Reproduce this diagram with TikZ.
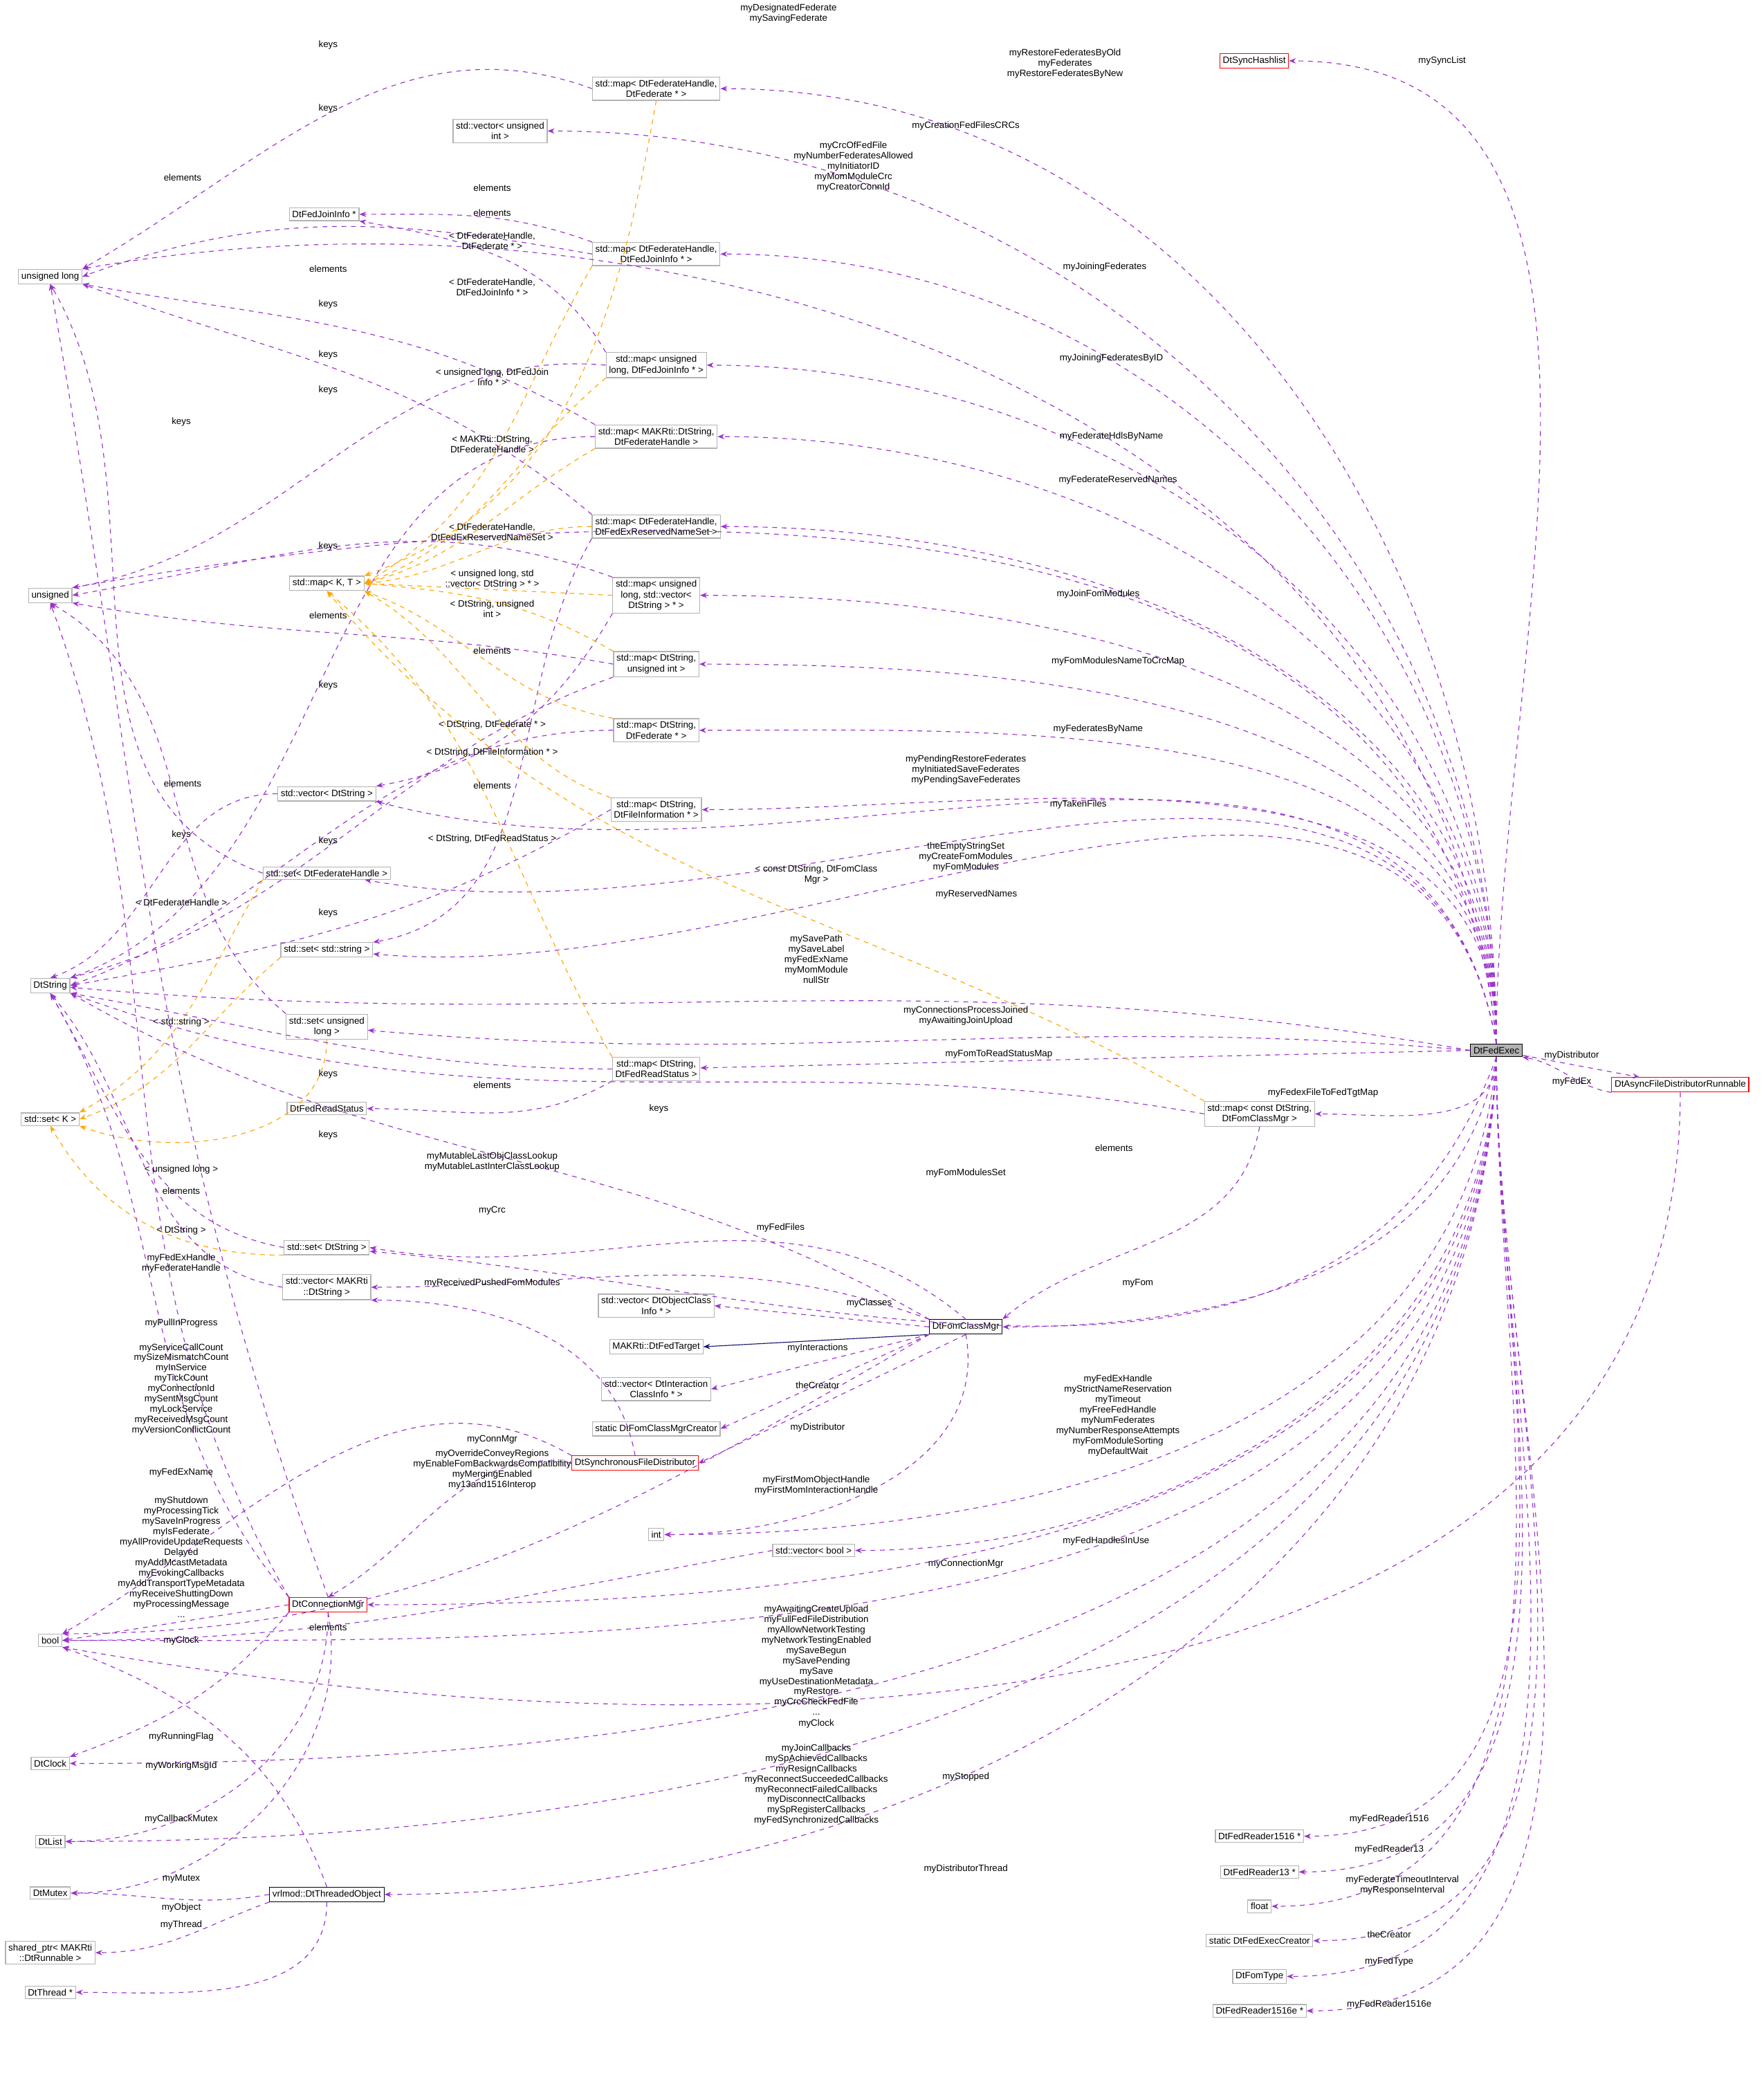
\documentclass[tikz,border=0pt]{standalone}
\usepackage{fontspec}
\setmainfont{Liberation Sans}
\usetikzlibrary{arrows.meta}
\definecolor{pur}{HTML}{9A32CD}
\definecolor{org}{HTML}{FFA500}
\definecolor{nav}{HTML}{191970}
\begin{document}
\begin{tikzpicture}[x=0.25pt,y=-0.25pt,line width=0.15pt,
 box/.style={draw=gray!60,fill=white,font=\fontsize{1.75}{2}\selectfont,inner sep=0.55pt,align=center},
 rbox/.style={box,draw=red},
 kbox/.style={box,draw=black},
 lbl/.style={font=\fontsize{1.75}{1.95}\selectfont,align=center,inner sep=0pt},
 mem/.style={draw=pur,dash pattern=on 0.9pt off 0.9pt,-{Stealth[length=1.3pt,width=1pt]}},
 tpl/.style={draw=org,dash pattern=on 0.9pt off 0.9pt,-{Stealth[length=1.3pt,width=1pt]}},
 inh/.style={draw=nav,-{Stealth[length=1.3pt,width=1pt]}}]
\useasboundingbox (0,0) rectangle (1333,1567);
% nodes
\node[box,fill=gray!60,draw=black] (fe) at (1131,794) {DtFedExec};
\node[rbox] (async) at (1270,820) {DtAsyncFileDistributorRunnable};
\node[rbox] (sync) at (948,46) {DtSyncHashlist};
\node[box] (mapFF) at (496,67) {std::map< DtFederateHandle,\\DtFederate * >};
\node[box] (vecUI) at (378,99) {std::vector< unsigned\\int >};
\node[box] (fji) at (245,162) {DtFedJoinInfo *};
\node[box] (mapFJ) at (496,192) {std::map< DtFederateHandle,\\DtFedJoinInfo * >};
\node[box] (ulong) at (38,209) {unsigned long};
\node[box] (mapUJ) at (496,276) {std::map< unsigned\\long, DtFedJoinInfo * >};
\node[box] (mapMS) at (496,330) {std::map< MAKRti::DtString,\\DtFederateHandle >};
\node[box] (mapFR) at (496,398) {std::map< DtFederateHandle,\\DtFedExReservedNameSet >};
\node[box] (mapKT) at (247,441) {std::map< K, T >};
\node[box] (unsig) at (38,450) {unsigned};
\node[box] (mapUV) at (496,450) {std::map< unsigned\\long, std::vector<\\DtString > * >};
\node[box] (mapSU) at (496,502) {std::map< DtString,\\unsigned int >};
\node[box] (mapSF) at (496,552) {std::map< DtString,\\DtFederate * >};
\node[box] (vecS) at (247,600) {std::vector< DtString >};
\node[box] (mapSFI) at (496,612) {std::map< DtString,\\DtFileInformation * >};
\node[box] (setFH) at (247,660) {std::set< DtFederateHandle >};
\node[box] (setSS) at (247,718) {std::set< std::string >};
\node[box] (dts) at (38,745) {DtString};
\node[box] (setUL) at (247,776) {std::set< unsigned\\long >};
\node[box] (mapSR) at (496,808) {std::map< DtString,\\DtFedReadStatus >};
\node[box] (frs) at (247,838) {DtFedReadStatus};
\node[box] (setK) at (38,846) {std::set< K >};
\node[box] (mapCF) at (952,842) {std::map< const DtString,\\DtFomClassMgr >};
\node[box] (setS) at (247,943) {std::set< DtString >};
\node[box] (vecMS) at (247,973) {std::vector< MAKRti\\::DtString >};
\node[box] (vecOC) at (496,987) {std::vector< DtObjectClass\\Info * >};
\node[box] (ftgt) at (496,1018) {MAKRti::DtFedTarget};
\node[kbox] (fcm) at (730,1003) {DtFomClassMgr};
\node[box] (vecIC) at (496,1050) {std::vector< DtInteraction\\ClassInfo * >};
\node[box] (fcmc) at (496,1080) {static DtFomClassMgrCreator};
\node[rbox] (sfd) at (480,1106) {DtSynchronousFileDistributor};
\node[box] (int) at (496,1160) {int};
\node[box] (vecB) at (615,1172) {std::vector< bool >};
\node[rbox] (cm) at (248,1213) {DtConnectionMgr};
\node[box] (bool) at (38,1240) {bool};
\node[box] (clock) at (38,1333) {DtClock};
\node[box] (list) at (38,1392) {DtList};
\node[box] (mutex) at (38,1431) {DtMutex};
\node[kbox] (thr) at (247,1432) {vrlmod::DtThreadedObject};
\node[box] (shp) at (38,1476) {shared\_ptr< MAKRti\\::DtRunnable >};
\node[box] (dth) at (38,1506) {DtThread *};
\node[box] (r1516) at (952,1388) {DtFedReader1516 *};
\node[box] (r13) at (952,1415) {DtFedReader13 *};
\node[box] (flt) at (952,1441) {float};
\node[box] (fec) at (952,1467) {static DtFedExecCreator};
\node[box] (fty) at (952,1494) {DtFomType};
\node[box] (r1516e) at (952,1520) {DtFedReader1516e *};
% edges from DtFedExec upward
\begin{scope}[every to/.style={out=90,in=0}]
\draw[mem] (fe.north) to[out=95,in=10] (ulong.north east);
\draw[mem] (fe.north) to (sync);
\draw[mem] (fe.north) to (mapFF);
\draw[mem] (fe.north) to (vecUI);
\draw[mem] (fe.north) to[out=95,in=10] (unsig.north east);
\draw[mem] (fe.north) to (mapFJ);
\draw[mem] (fe.north) to (mapUJ);
\draw[mem] (fe.north) to (mapMS);
\draw[mem] (fe.north) to (mapFR);
\draw[mem] (fe.north) to (mapUV);
\draw[mem] (fe.north) to (mapSU);
\draw[mem] (fe.north) to (mapSF);
\draw[mem] (fe.north) to (mapSFI);
\draw[mem] (fe.north) to[out=100,in=-10] (setFH);
\draw[mem] (fe.north) to[out=100,in=-15] (vecS.south east);
\draw[mem] (fe.north) to[out=100,in=-5] (setSS);
\end{scope}
\draw[mem] (fe.west) to[out=170,in=-5] (dts);
\draw[mem] (fe.west) to[out=175,in=-5] (setUL);
\draw[mem] (fe.west) -- (mapSR);
\draw[mem] (fe.south) to[out=-90,in=0] (mapCF);
\draw[mem] (fe) -- (async);
\draw[mem] (async.south west) to[out=170,in=-10] (fe.south east);
\draw[mem] (fe.south) to[out=-110,in=-5] (setS);
\draw[mem] (fe.south) to[out=-100,in=0] (fcm);
\draw[mem] (fe.south) to[out=-95,in=0] (int);
\draw[mem] (fe.south) to[out=-92,in=0] (vecB);
\draw[mem] (fe.south) to[out=-92,in=0] (cm);
\draw[mem] (fe.south) to[out=-92,in=0] (bool);
\draw[mem] (fe.south) to[out=-92,in=0] (clock);
\draw[mem] (fe.south) to[out=-92,in=0] (list);
\draw[mem] (fe.south) to[out=-92,in=0] (thr);
\draw[mem] (fe.south) to[out=-90,in=0] (r1516);
\draw[mem] (fe.south) to[out=-90,in=0] (r13);
\draw[mem] (fe.south) to[out=-90,in=0] (flt);
\draw[mem] (fe.south) to[out=-90,in=0] (fec);
\draw[mem] (fe.south) to[out=-90,in=0] (fty);
\draw[mem] (fe.south) to[out=-90,in=0] (r1516e);
\draw[mem] (async.south) to[out=-90,in=-10] (bool.south east);
% map internals
\draw[mem] (mapFF.west) to[out=160,in=30] (ulong.north east);
\draw[tpl] (mapFF.south) to[out=-100,in=20] (mapKT.north east);
\draw[mem] (mapFJ.west) to[out=170,in=20] (ulong.east);
\draw[mem] (mapFJ.north west) to[out=160,in=0] (fji.east);
\draw[tpl] (mapFJ.south west) to[out=-120,in=30] (mapKT.east);
\draw[mem] (mapUJ.west) to[out=175,in=10] (unsig.north east);
\draw[mem] (mapUJ.north west) to[out=120,in=-10] (fji.south east);
\draw[tpl] (mapUJ.south west) to[out=-140,in=20] (mapKT.east);
\draw[mem] (mapMS.north west) to[out=150,in=-10] (ulong.south east);
\draw[mem] (mapMS.west) to[out=180,in=20] (dts.north east);
\draw[tpl] (mapMS.south west) to[out=-150,in=15] (mapKT.east);
\draw[mem] (mapFR.north west) to[out=140,in=-20] (ulong.south east);
\draw[mem] (mapFR.south west) to[out=-120,in=10] (setSS.north east);
\draw[tpl] (mapFR.west) to[out=180,in=5] (mapKT.east);
\draw[mem] (mapUV.north west) to[out=160,in=10] (unsig.east);
\draw[mem] (mapUV.south west) to[out=-120,in=10] (vecS.north east);
\draw[tpl] (mapUV.west) to (mapKT.east);
\draw[mem] (mapSU.west) to[out=170,in=-10] (unsig.south east);
\draw[mem] (mapSU.south west) to[out=-160,in=15] (dts.north east);
\draw[tpl] (mapSU.north west) to[out=150,in=-5] (mapKT.east);
\draw[mem] (mapSF.west) to[out=180,in=20] (dts.east);
\draw[tpl] (mapSF.north west) to[out=170,in=-20] (mapKT.south east);
\draw[mem] (mapSFI.west) to[out=-150,in=10] (dts.east);
\draw[tpl] (mapSFI.north west) to[out=160,in=-30] (mapKT.south east);
\draw[mem] (vecS.west) to[out=180,in=20] (dts.north);
\draw[mem] (setFH.west) to[out=160,in=-60] (ulong.south);
\draw[tpl] (setFH.south west) to[out=-120,in=30] (setK.north east);
\draw[tpl] (setSS.south west) to[out=-140,in=20] (setK.east);
\draw[mem] (setUL.north west) to[out=140,in=-30] (unsig.south);
\draw[tpl] (setUL.south) to[out=-90,in=-20] (setK.south east);
\draw[mem] (mapSR.west) to[out=180,in=-10] (dts.south east);
\draw[mem] (mapSR.south west) to[out=-150,in=0] (frs.east);
\draw[tpl] (mapSR.north west) to[out=120,in=-40] (mapKT.south);
\draw[mem] (mapCF.west) to[out=170,in=-20] (dts.south east);
\draw[mem] (mapCF.south) to[out=-100,in=40] (fcm.north east);
\draw[tpl] (mapCF.north west) to[out=150,in=-50] (mapKT.south);
\draw[mem] (setS.west) to[out=170,in=-60] (dts.south);
\draw[tpl] (setS.south west) to[out=180,in=-60] (setK.south);
\draw[mem] (vecMS.west) to[out=170,in=-50] (dts.south);
% DtFomClassMgr
\draw[mem] (fcm.north west) to[out=160,in=0] (vecMS.east);
\draw[mem] (fcm.north) to[out=140,in=-10] (setS.east);
\draw[mem] (fcm.north west) to[out=150,in=-30] (dts.south east);
\draw[mem] (fcm.west) -- (vecOC.east);
\draw[inh] (fcm.south west) -- (ftgt.east);
\draw[mem] (fcm.south west) -- (vecIC.east);
\draw[mem] (fcm.south west) -- (fcmc.east);
\draw[mem] (fcm.south) -- (sfd.east);
\draw[mem] (fcm.south) to[out=-80,in=0] (int.east);
\draw[mem] (fcm.south west) to[out=-150,in=0] (bool.north east);
% DtSynchronousFileDistributor
\draw[mem] (sfd.north) to[out=100,in=0] (vecMS.south east);
\draw[mem] (sfd.west) to[out=170,in=30] (cm.north);
\draw[mem] (sfd.north west) to[out=150,in=30] (bool.north east);
% DtConnectionMgr
\draw[mem] (cm.north) to[out=110,in=-80] (ulong.south);
\draw[mem] (cm.north west) to[out=120,in=-70] (unsig.south);
\draw[mem] (cm.north west) to[out=130,in=-60] (dts.south);
\draw[mem] (cm.west) -- (bool.east);
\draw[mem] (cm.south west) to[out=-130,in=20] (clock.north east);
\draw[mem] (cm.south) to[out=-90,in=0] (list.east);
\draw[mem] (cm.south) to[out=-80,in=0] (mutex.east);
\draw[mem] (vecB.west) to[out=-170,in=0] (bool.east);
% threaded object
\draw[mem] (thr.north) to[out=110,in=-20] (bool.south east);
\draw[mem] (thr.west) to[out=-170,in=0] (mutex.east);
\draw[mem] (thr.south west) to[out=-160,in=0] (shp.east);
\draw[mem] (thr.south) to[out=-90,in=0] (dth.east);
% labels
\node[lbl] (l1) at (596,10) {myDesignatedFederate\\mySavingFederate};
\node[lbl] (l2) at (1090,46) {mySyncList};
\node[lbl] (l3) at (805,48) {myRestoreFederatesByOld\\myFederates\\myRestoreFederatesByNew};
\node[lbl] (l4) at (248,34) {keys};
\node[lbl] (l5) at (248,82) {keys};
\node[lbl] (l6) at (730,95) {myCreationFedFilesCRCs};
\node[lbl] (l7) at (138,134) {elements};
\node[lbl] (l8) at (645,126) {myCrcOfFedFile\\myNumberFederatesAllowed\\myInitiatorID\\myMomModuleCrc\\myCreatorConnId};
\node[lbl] (l9) at (372,142) {elements};
\node[lbl] (l10) at (372,161) {elements};
\node[lbl] (l11) at (372,182) {< DtFederateHandle,\\DtFederate * >};
\node[lbl] (l12) at (248,203) {elements};
\node[lbl] (l13) at (835,202) {myJoiningFederates};
\node[lbl] (l14) at (372,217) {< DtFederateHandle,\\DtFedJoinInfo * >};
\node[lbl] (l15) at (248,230) {keys};
\node[lbl] (l16) at (248,268) {keys};
\node[lbl] (l17) at (372,285) {< unsigned long, DtFedJoin\\Info * >};
\node[lbl] (l18) at (248,295) {keys};
\node[lbl] (l19) at (840,271) {myJoiningFederatesByID};
\node[lbl] (l20) at (137,319) {keys};
\node[lbl] (l21) at (840,330) {myFederateHdlsByName};
\node[lbl] (l22) at (372,336) {< MAKRti::DtString,\\DtFederateHandle >};
\node[lbl] (l23) at (845,363) {myFederateReservedNames};
\node[lbl] (l24) at (372,402) {< DtFederateHandle,\\DtFedExReservedNameSet >};
\node[lbl] (l25) at (248,413) {keys};
\node[lbl] (l26) at (372,438) {< unsigned long, std\\::vector< DtString > * >};
\node[lbl] (l27) at (372,460) {< DtString, unsigned\\int >};
\node[lbl] (l28) at (830,449) {myJoinFomModules};
\node[lbl] (l29) at (248,465) {elements};
\node[lbl] (l30) at (372,492) {elements};
\node[lbl] (l31) at (845,500) {myFomModulesNameToCrcMap};
\node[lbl] (l32) at (248,518) {keys};
\node[lbl] (l33) at (372,548) {< DtString, DtFederate * >};
\node[lbl] (l34) at (830,551) {myFederatesByName};
\node[lbl] (l35) at (372,569) {< DtString, DtFileInformation * >};
\node[lbl] (l36) at (730,582) {myPendingRestoreFederates\\myInitiatedSaveFederates\\myPendingSaveFederates};
\node[lbl] (l37) at (138,592) {elements};
\node[lbl] (l38) at (372,594) {elements};
\node[lbl] (l39) at (815,608) {myTakenFiles};
\node[lbl] (l40) at (372,634) {< DtString, DtFedReadStatus >};
\node[lbl] (l41) at (248,636) {keys};
\node[lbl] (l42) at (137,631) {keys};
\node[lbl] (l43) at (730,648) {theEmptyStringSet\\myCreateFomModules\\myFomModules};
\node[lbl] (l44) at (617,661) {< const DtString, DtFomClass\\Mgr >};
\node[lbl] (l45) at (137,682) {< DtFederateHandle >};
\node[lbl] (l46) at (738,676) {myReservedNames};
\node[lbl] (l47) at (248,690) {keys};
\node[lbl] (l48) at (617,725) {mySavePath\\mySaveLabel\\myFedExName\\myMomModule\\nullStr};
\node[lbl] (l49) at (730,768) {myConnectionsProcessJoined\\myAwaitingJoinUpload};
\node[lbl] (l50) at (137,773) {< std::string >};
\node[lbl] (l51) at (755,797) {myFomToReadStatusMap};
\node[lbl] (l52) at (1188,798) {myDistributor};
\node[lbl] (l53) at (1000,826) {myFedexFileToFedTgtMap};
\node[lbl] (l54) at (1188,818) {myFedEx};
\node[lbl] (l55) at (248,812) {keys};
\node[lbl] (l56) at (498,838) {keys};
\node[lbl] (l57) at (372,820) {elements};
\node[lbl] (l58) at (248,858) {keys};
\node[lbl] (l59) at (372,878) {myMutableLastObjClassLookup\\myMutableLastInterClassLookup};
\node[lbl] (l60) at (137,884) {< unsigned long >};
\node[lbl] (l61) at (137,900) {elements};
\node[lbl] (l62) at (842,868) {elements};
\node[lbl] (l63) at (730,887) {myFomModulesSet};
\node[lbl] (l64) at (372,915) {myCrc};
\node[lbl] (l65) at (137,930) {< DtString >};
\node[lbl] (l66) at (137,955) {myFedExHandle\\myFederateHandle};
\node[lbl] (l67) at (590,928) {myFedFiles};
\node[lbl] (l68) at (372,970) {myReceivedPushedFomModules};
\node[lbl] (l69) at (137,1000) {myPullInProgress};
\node[lbl] (l70) at (657,985) {myClasses};
\node[lbl] (l71) at (860,970) {myFom};
\node[lbl] (l72) at (137,1050) {myServiceCallCount\\mySizeMismatchCount\\myInService\\myTickCount\\myConnectionId\\mySentMsgCount\\myLockService\\myReceivedMsgCount\\myVersionConflictCount};
\node[lbl] (l73) at (618,1019) {myInteractions};
\node[lbl] (l74) at (618,1047) {theCreator};
\node[lbl] (l75) at (618,1079) {myDistributor};
\node[lbl] (l76) at (372,1088) {myConnMgr};
\node[lbl] (l77) at (617,1123) {myFirstMomObjectHandle\\myFirstMomInteractionHandle};
\node[lbl] (l78) at (372,1111) {myOverrideConveyRegions\\myEnableFomBackwardsCompatibility\\myMergingEnabled\\my13and1516Interop};
\node[lbl] (l79) at (137,1113) {myFedExName};
\node[lbl] (l80) at (845,1070) {myFedExHandle\\myStrictNameReservation\\myTimeout\\myFreeFedHandle\\myNumFederates\\myNumberResponseAttempts\\myFomModuleSorting\\myDefaultWait};
\node[lbl] (l81) at (137,1177) {myShutdown\\myProcessingTick\\mySaveInProgress\\myIsFederate\\myAllProvideUpdateRequests\\Delayed\\myAddMcastMetadata\\myEvokingCallbacks\\myAddTransportTypeMetadata\\myReceiveShuttingDown\\myProcessingMessage\\...};
\node[lbl] (l82) at (836,1165) {myFedHandlesInUse};
\node[lbl] (l83) at (730,1182) {myConnectionMgr};
\node[lbl] (l84) at (248,1230) {elements};
\node[lbl] (l85) at (137,1240) {myClock};
\node[lbl] (l86) at (617,1255) {myAwaitingCreateUpload\\myFullFedFileDistribution\\myAllowNetworkTesting\\myNetworkTestingEnabled\\mySaveBegun\\mySavePending\\mySave\\myUseDestinationMetadata\\myRestore\\myCrcCheckFedFile\\...};
\node[lbl] (l87) at (617,1303) {myClock};
\node[lbl] (l88) at (617,1349) {myJoinCallbacks\\mySpAchievedCallbacks\\myResignCallbacks\\myReconnectSucceededCallbacks\\myReconnectFailedCallbacks\\myDisconnectCallbacks\\mySpRegisterCallbacks\\myFedSynchronizedCallbacks};
\node[lbl] (l89) at (730,1343) {myStopped};
\node[lbl] (l90) at (137,1313) {myRunningFlag};
\node[lbl] (l91) at (137,1335) {myWorkingMsgId};
\node[lbl] (l92) at (137,1375) {myCallbackMutex};
\node[lbl] (l93) at (137,1420) {myMutex};
\node[lbl] (l94) at (137,1442) {myObject};
\node[lbl] (l95) at (137,1455) {myThread};
\node[lbl] (l96) at (730,1413) {myDistributorThread};
\node[lbl] (l97) at (1050,1375) {myFedReader1516};
\node[lbl] (l98) at (1050,1398) {myFedReader13};
\node[lbl] (l99) at (1060,1425) {myFederateTimeoutInterval\\myResponseInterval};
\node[lbl] (l100) at (1050,1462) {theCreator};
\node[lbl] (l101) at (1050,1483) {myFedType};
\node[lbl] (l102) at (1050,1515) {myFedReader1516e};
\end{tikzpicture}
\end{document}
